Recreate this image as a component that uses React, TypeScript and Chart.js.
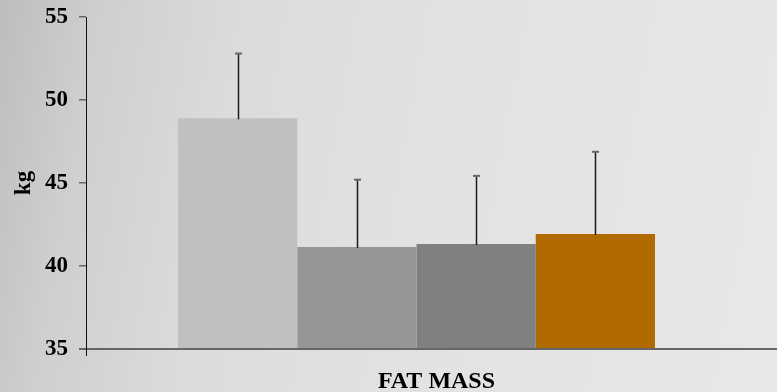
import React, { useEffect, useRef } from "react";
import { Chart, registerables } from "chart.js";

Chart.register(...registerables);

const categories = ["FAT MASS"];
const seriesNames = ["Group 1", "Group 2", "Group 3", "Group 4"];
const seriesValues = [48.9, 41.15, 41.33, 41.93];
const seriesErrors = [3.9, 4.05, 4.1, 4.95];
const seriesColors = ["#c0c0c0", "#969696", "#808080", "#b06a00"];
const yTicks = [35, 40, 45, 50, 55];
const yTitle = "kg";

const FONT = '"Liberation Serif", "Times New Roman", serif';

const errorBarPlugin = {
  id: "errorBars",
  afterDatasetsDraw(chart: any) {
    const ctx = chart.ctx;
    const yScale = chart.scales.y;
    chart.data.datasets.forEach((ds: any, i: number) => {
      const meta = chart.getDatasetMeta(i);
      meta.data.forEach((bar: any, j: number) => {
        const v = ds.data[j];
        const err = ds.errors[j];
        const x = Math.round(bar.x) + 0.5;
        const yTop = yScale.getPixelForValue(v + err);
        const yBar = yScale.getPixelForValue(v);
        ctx.save();
        ctx.strokeStyle = "#1a1a1a";
        ctx.lineWidth = 1.5;
        ctx.beginPath();
        ctx.moveTo(x, yBar + 1);
        ctx.lineTo(x, yTop);
        ctx.stroke();
        ctx.strokeStyle = "#666666";
        ctx.lineWidth = 2;
        ctx.beginPath();
        ctx.moveTo(x - 3.5, yTop);
        ctx.lineTo(x + 3.5, yTop);
        ctx.stroke();
        ctx.restore();
      });
    });
  },
};

const axesPlugin = {
  id: "axesLines",
  afterDraw(chart: any) {
    const ctx = chart.ctx;
    const area = chart.chartArea;
    ctx.save();
    ctx.strokeStyle = "#666666";
    ctx.lineWidth = 2;
    ctx.beginPath();
    ctx.moveTo(area.left - 7, area.bottom);
    ctx.lineTo(chart.width, area.bottom);
    ctx.stroke();
    ctx.strokeStyle = "#111111";
    ctx.lineWidth = 1;
    ctx.beginPath();
    ctx.moveTo(area.left + 0.5, area.top);
    ctx.lineTo(area.left + 0.5, area.bottom + 7);
    ctx.stroke();
    ctx.restore();
  },
};

export default function App() {
  const canvasRef = useRef<HTMLCanvasElement | null>(null);

  useEffect(() => {
    document.body.style.margin = "0";
    const canvas = canvasRef.current;
    if (!canvas) return;
    const chart = new Chart(canvas, {
      type: "bar",
      data: {
        labels: categories,
        datasets: seriesNames.map((name, i) => ({
          label: name,
          data: [seriesValues[i]],
          errors: [seriesErrors[i]],
          backgroundColor: seriesColors[i],
          borderWidth: 0,
          categoryPercentage: 0.7216,
          barPercentage: 1.0,
        })) as any,
      },
      options: {
        animation: false,
        responsive: true,
        maintainAspectRatio: false,
        layout: { padding: { left: 0, right: 30, top: 17, bottom: 0 } },
        plugins: {
          legend: { display: false },
          tooltip: { enabled: false },
        },
        scales: {
          x: {
            grid: { display: false },
            border: { display: false },
            afterFit(scale: any) {
              scale.height = 43;
            },
            ticks: {
              color: "#000000",
              font: { family: FONT, size: 24, weight: "bold" },
              padding: 10,
              labelOffset: 20,
            },
          },
          y: {
            min: 35,
            max: 55,
            afterFit(scale: any) {
              scale.width = 86;
              scale.paddingTop = 0;
              scale.paddingBottom = 0;
            },
            afterBuildTicks(scale: any) {
              scale.ticks = yTicks.map((v) => ({ value: v }));
            },
            grid: {
              display: true,
              drawOnChartArea: false,
              drawTicks: true,
              tickLength: 7,
              color: "#666666",
              lineWidth: 1.5,
            },
            border: { display: false },
            ticks: {
              color: "#000000",
              font: { family: FONT, size: 23, weight: "bold" },
              padding: 11,
            },
            title: {
              display: true,
              text: yTitle,
              color: "#000000",
              font: { family: FONT, size: 23, weight: "bold" },
              padding: { top: 10, bottom: 0 },
            },
          },
        },
      },
      plugins: [errorBarPlugin, axesPlugin],
    });
    return () => chart.destroy();
  }, []);

  return (
    <div
      style={{
        width: 777,
        height: 392,
        position: "relative",
        background:
          "linear-gradient(100deg, #bdbdbd 0%, #cfcfcf 12%, #dcdcdc 30%, #e2e2e2 55%, #e8e8e8 100%)",
      }}
    >
      <canvas ref={canvasRef} />
    </div>
  );
}
